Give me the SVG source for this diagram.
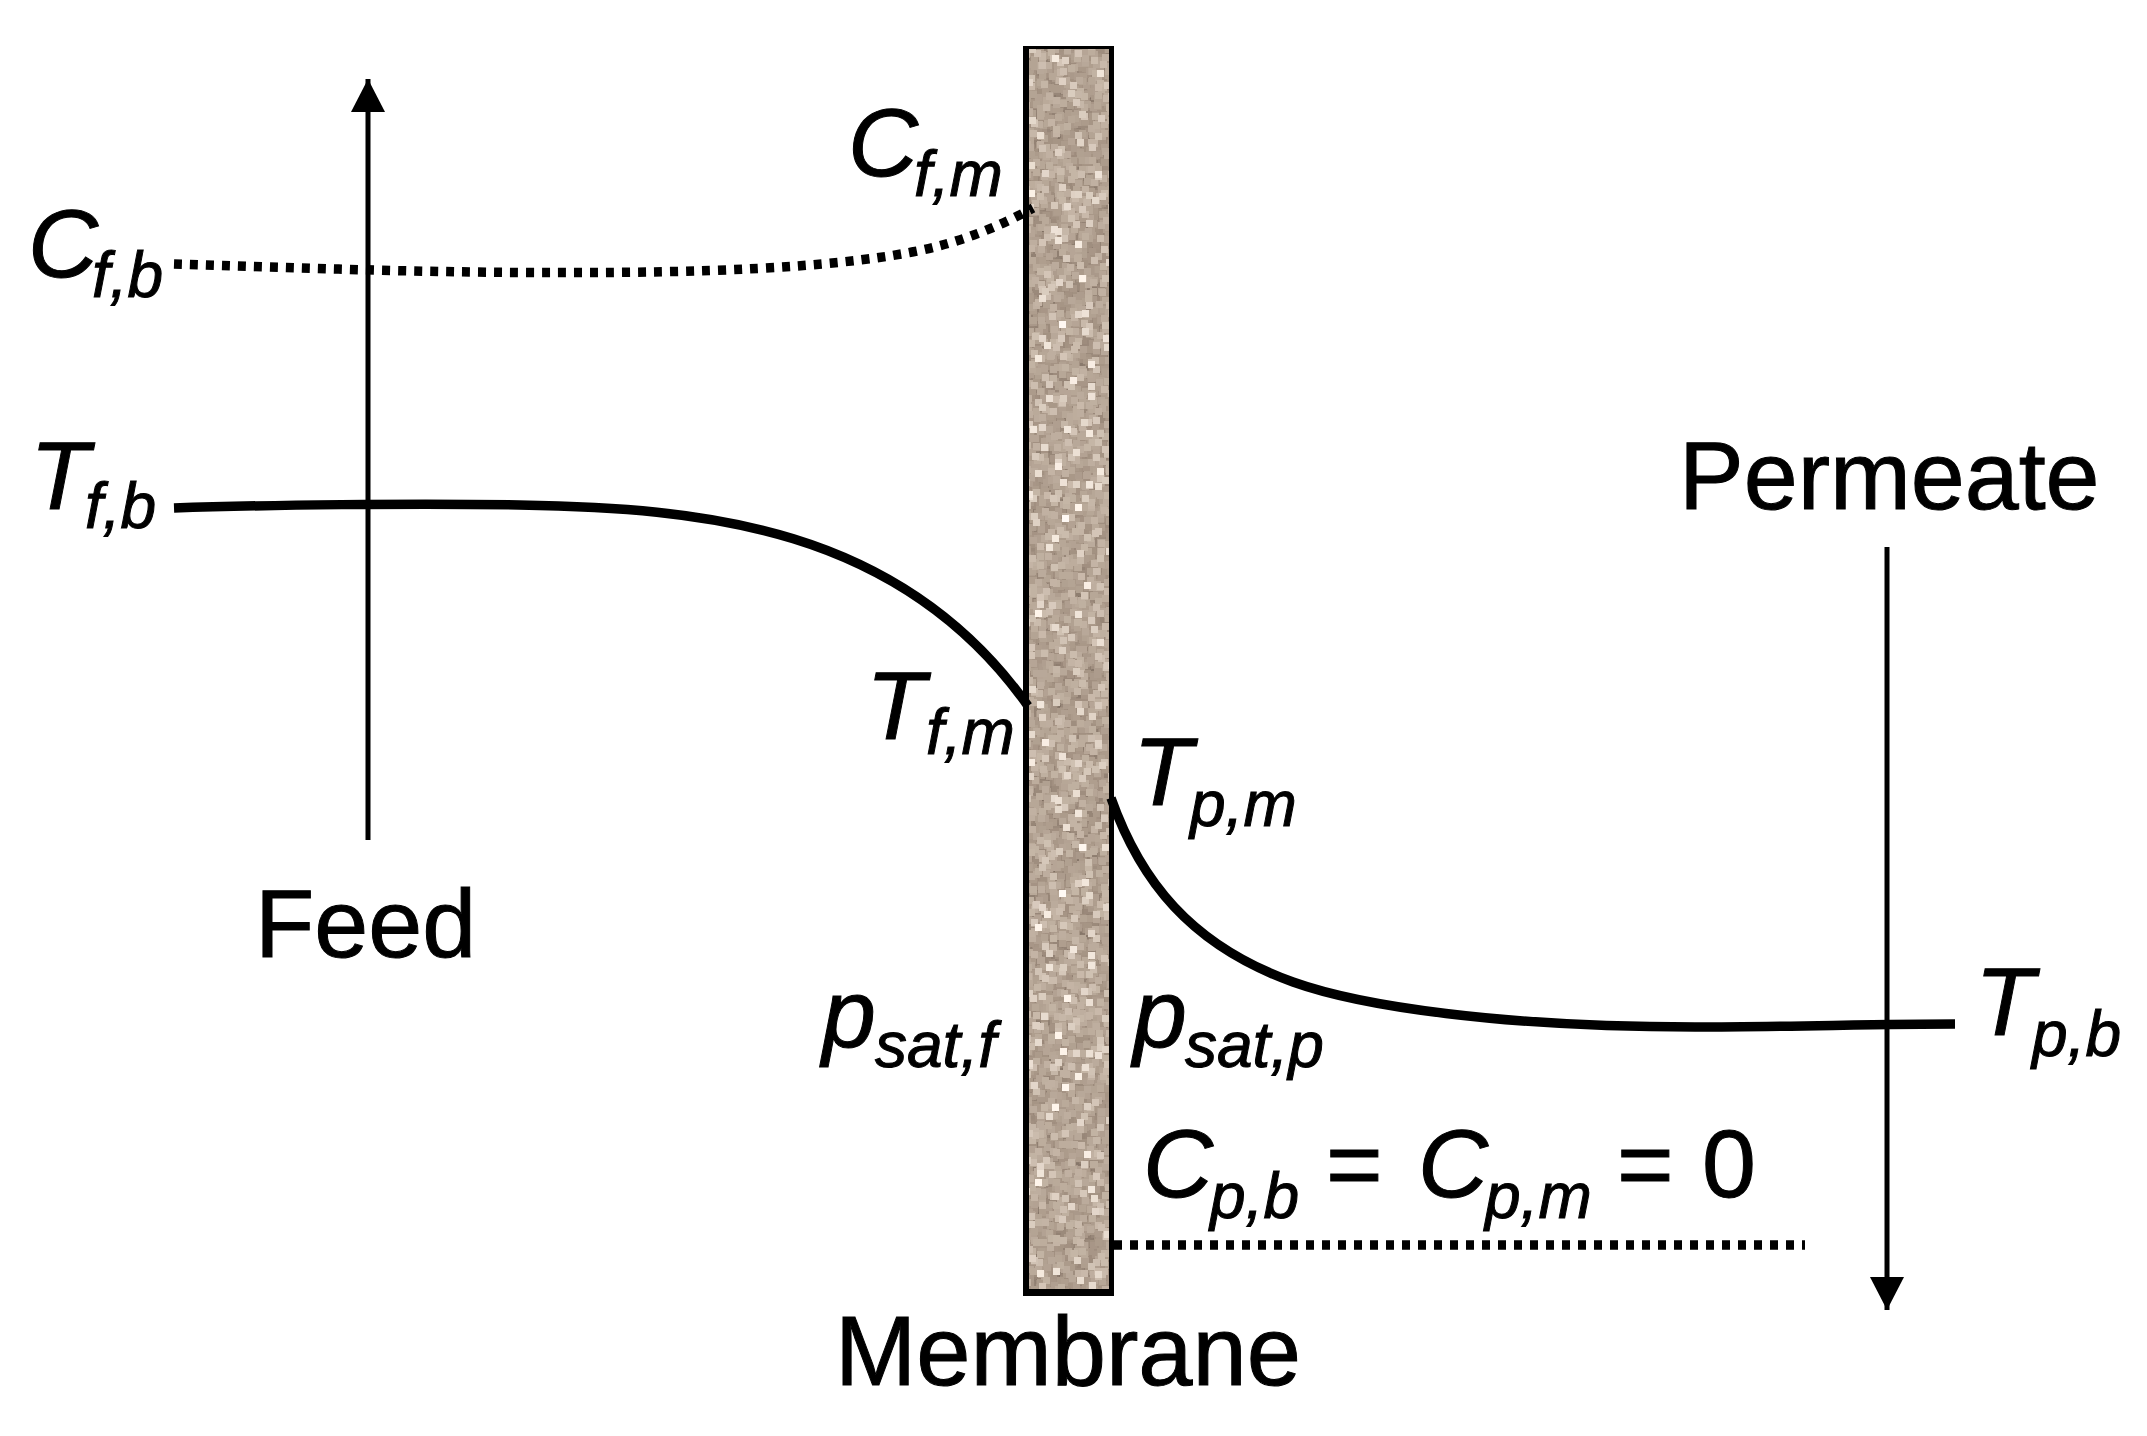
<svg xmlns="http://www.w3.org/2000/svg" width="2147" height="1436" viewBox="0 0 2147 1436">
<style>
text{font-family:"Liberation Sans",Arial,sans-serif;font-size:97px;fill:#000;stroke:#000;stroke-width:1}
.v{font-style:italic}
.s{font-style:italic;font-size:64px}
.thin{fill:none;stroke:#000;stroke-width:5}
.thick{fill:none;stroke:#000;stroke-width:9.500}
.dot{fill:none;stroke:#000;stroke-width:9.500;stroke-dasharray:8 8}
</style>
<defs>
<filter id="grain" filterUnits="userSpaceOnUse" x="1024" y="46" width="90" height="1250" color-interpolation-filters="sRGB">
<feTurbulence type="fractalNoise" baseFrequency="0.45" numOctaves="3" seed="11" result="n"/>
<feColorMatrix in="n" type="matrix" values="1 0 0 0 0 1 0 0 0 0 1 0 0 0 0 0 0 0 0 1" result="g"/>
<feFlood x="1024" y="46" width="1" height="1" flood-color="#000" result="d"/>
<feTile in="d" result="dd"/>
<feComposite in="g" in2="dd" operator="in" result="c"/>
<feMorphology in="c" operator="dilate" radius="3" result="b"/>
<feComponentTransfer in="b">
<feFuncR type="table" tableValues="0.08 0.08 0.08 0.08 0.1 0.22 0.5 0.64 0.78 1 1"/>
<feFuncG type="table" tableValues="0.05 0.05 0.05 0.05 0.06 0.17 0.44 0.57 0.72 0.96 1"/>
<feFuncB type="table" tableValues="0.03 0.03 0.03 0.03 0.04 0.13 0.39 0.51 0.66 0.92 1"/>
</feComponentTransfer>
</filter>
<marker id="head" markerUnits="userSpaceOnUse" viewBox="0 0 34 34" refX="33" refY="17" markerWidth="34" markerHeight="34" orient="auto"><path d="M0 0L33 17L0 34Z" fill="#000"/></marker>
</defs>
<rect width="2147" height="1436" fill="#fff"/>
<g id="membrane">
<rect x="1026" y="48" width="86" height="1246" fill="#b0a092" filter="url(#grain)"/>
<path d="M1023 46H1114V1296H1023ZM1029 49V1289H1109V49Z" fill="#000" fill-rule="evenodd"/>
</g>
<g id="connectors">
<path class="thin" d="M368 840V79" marker-end="url(#head)"/>
<path class="thin" d="M1887 547V1310" marker-end="url(#head)"/>
<path class="dot" d="M174 264C300 268 440 273 561 272.500C700 273 830 268 912 252C960 243 1000 226 1033 208"/>
<path class="thick" d="M174 508C260 505 420 503 519 505C700 508 900 525 1028 706"/>
<path class="thick" d="M1111 798C1140 880 1190 945 1293 982C1360 1006 1500 1027 1695 1027C1780 1027 1880 1024 1955 1024"/>
<path class="dot" d="M1114 1245H1805"/>
</g>
<g id="label-cfb"><text class="v" x="28" y="277">C</text><text class="s" x="92" y="297">f,b</text></g>
<g id="label-cfm"><text class="v" x="848" y="176">C</text><text class="s" x="914" y="196">f,m</text></g>
<g id="label-tfb"><text class="v" x="30" y="509">T</text><text class="s" x="85" y="528">f,b</text></g>
<g id="label-tfm"><text class="v" x="866" y="739">T</text><text class="s" x="926" y="754">f,m</text></g>
<g id="label-tpm"><text class="v" x="1133" y="805">T</text><text class="s" x="1190" y="826">p,m</text></g>
<g id="label-tpb"><text class="v" x="1975" y="1035">T</text><text class="s" x="2032" y="1056">p,b</text></g>
<g id="label-psatf"><text class="v" x="822" y="1047">p</text><text class="s" x="875" y="1067">sat,f</text></g>
<g id="label-psatp"><text class="v" x="1133" y="1047">p</text><text class="s" x="1185" y="1067">sat,p</text></g>
<g id="label-c-permeate"><text class="v" x="1143" y="1197">C</text><text class="s" x="1210" y="1218">p,b</text><text x="1326" y="1197">=</text><text class="v" x="1418" y="1197">C</text><text class="s" x="1485" y="1218">p,m</text><text x="1617" y="1197">=</text><text x="1702" y="1197">0</text></g>
<g id="label-feed"><text x="255" y="957">Feed</text></g>
<g id="label-permeate"><text x="1679" y="509">Permeate</text></g>
<g id="label-membrane"><text x="835" y="1385" style="font-size:97.500px">Membrane</text></g>
</svg>
